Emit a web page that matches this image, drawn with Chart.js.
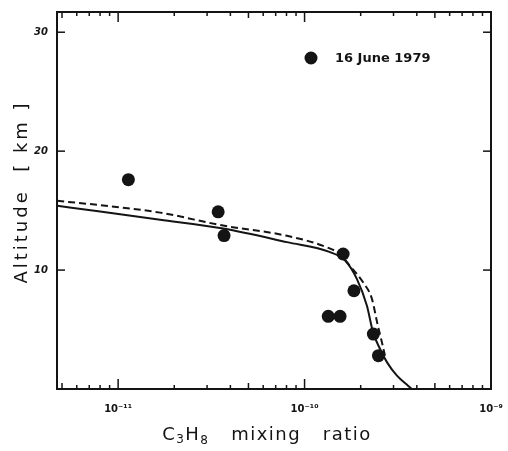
<!DOCTYPE html>
<html>
<head>
<meta charset="utf-8">
<script src="https://cdn.jsdelivr.net/npm/chart.js@4/dist/chart.umd.min.js"></script>
<style>
  html, body { margin: 0; padding: 0; background: #fff; }
  #wrap { width: 508px; height: 451px; }
</style>
</head>
<body>
<div id="wrap"><canvas id="c" width="508" height="451"></canvas></div>
<script>
// Propane (C3H8) vertical profile: balloon samples and two model profiles
const seriesLabel = '16 June 1979';

const obsMixing   = [1.135e-11, 3.44e-11, 3.70e-11, 1.61e-10, 1.84e-10, 1.34e-10, 1.55e-10, 2.34e-10, 2.49e-10];
const obsAltitude = [17.6, 14.9, 12.9, 11.35, 8.26, 6.11, 6.11, 4.62, 2.80];

const solidMixing   = [4.71e-12, 8.01e-12, 1.68e-11, 3.66e-11, 8.05e-11, 1.37e-10, 1.65e-10, 1.91e-10, 2.16e-10, 2.33e-10, 2.54e-10, 2.77e-10, 3.13e-10, 3.59e-10, 3.77e-10];
const solidAltitude = [15.40, 14.92, 14.24, 13.49, 12.35, 11.51, 10.80, 9.24, 7.00, 4.76, 3.36, 2.24, 1.12, 0.28, 0.0];

const dashedMixing   = [4.71e-12, 8.01e-12, 1.68e-11, 3.66e-11, 8.05e-11, 1.32e-10, 1.55e-10, 1.75e-10, 2.06e-10, 2.30e-10, 2.45e-10, 2.60e-10, 2.70e-10];
const dashedAltitude = [15.82, 15.46, 14.83, 13.74, 12.88, 11.91, 11.34, 10.36, 8.97, 7.56, 5.60, 3.92, 2.80];

const altitudeTicks = [10, 20, 30];
const mixingDecades = [1e-12, 1e-11, 1e-10, 1e-9];

const INK = '#141414';
const FONT = '"DejaVu Sans", "Liberation Sans", sans-serif';

const pairs = (xs, ys) => xs.map((v, i) => ({ x: v, y: ys[i] }));

const SUP = { '-': '\u207B', '0': '\u2070', '1': '\u00B9', '2': '\u00B2', '3': '\u00B3',
              '4': '\u2074', '5': '\u2075', '6': '\u2076', '7': '\u2077', '8': '\u2078', '9': '\u2079' };
const powerLabel = e => '10' + String(e).split('').map(ch => SUP[ch]).join('');

// draws a run of [text, size, dy] pieces left to right, centred on cx
function drawRuns(ctx, runs, cx, cy, spacing) {
  ctx.letterSpacing = spacing + 'px';
  const widths = runs.map(([t, s]) => { ctx.font = s + 'px ' + FONT; return ctx.measureText(t).width; });
  let xPos = cx - widths.reduce((p, w) => p + w, 0) / 2;
  ctx.textAlign = 'left';
  runs.forEach(([t, s, dy], i) => {
    ctx.font = s + 'px ' + FONT;
    ctx.fillText(t, xPos, cy + dy);
    xPos += widths[i];
  });
}

// Frame, inward tick marks, axis titles and the key
const decorations = {
  id: 'decorations',
  afterDatasetsDraw(chart) {
    const { ctx, chartArea: a, scales: { x, y } } = chart;
    const seg = (x1, y1, x2, y2) => { ctx.beginPath(); ctx.moveTo(x1, y1); ctx.lineTo(x2, y2); ctx.stroke(); };
    ctx.save();
    ctx.strokeStyle = INK;
    ctx.fillStyle = INK;

    ctx.lineWidth = 2;
    ctx.strokeRect(a.left, a.top, a.right - a.left, a.bottom - a.top);

    // log ticks: tall at decades, short at 2..9
    ctx.lineWidth = 1.5;
    mixingDecades.forEach(d => {
      for (let k = 1; k <= 9; k++) {
        const px = x.getPixelForValue(k * d);
        if (px < a.left + 2 || px > a.right - 2) continue;
        const len = k === 1 ? 10 : (k === 5 ? 6 : 4);
        seg(px, a.bottom, px, a.bottom - len);
        seg(px, a.top, px, a.top + len);
      }
    });
    altitudeTicks.forEach(v => {
      const py = y.getPixelForValue(v);
      seg(a.left, py, a.left + 8, py);
      seg(a.right, py, a.right - 8, py);
    });

    // axis titles
    ctx.textBaseline = 'middle';
    drawRuns(ctx, [['C', 18, 0], ['3', 12, 5], ['H', 18, 0], ['8', 12, 6], ['   mixing   ratio', 18, 0]],
             267, 435, 1.5);

    ctx.save();
    ctx.translate(22, 192);
    ctx.rotate(-Math.PI / 2);
    ctx.textAlign = 'center';
    ctx.font = '18px ' + FONT;
    ctx.letterSpacing = '3px';
    ctx.fillText('Altitude  [ km ]', 0, 0);
    ctx.restore();

    // key
    ctx.letterSpacing = '0px';
    const kx = 311, ky = 58;
    ctx.beginPath();
    ctx.arc(kx, ky, 6.5, 0, Math.PI * 2);
    ctx.fill();
    ctx.textAlign = 'left';
    ctx.font = 'bold 13px ' + FONT;
    ctx.fillText(seriesLabel, kx + 24, ky + 1);
    ctx.restore();
  }
};

new Chart(document.getElementById('c'), {
  type: 'scatter',
  data: {
    datasets: [
      {
        label: 'model (solid)',
        data: pairs(solidMixing, solidAltitude),
        showLine: true,
        borderColor: INK,
        borderWidth: 2,
        pointRadius: 0,
        cubicInterpolationMode: 'monotone',
        fill: false
      },
      {
        label: 'model (dashed)',
        data: pairs(dashedMixing, dashedAltitude),
        showLine: true,
        borderColor: INK,
        borderWidth: 2,
        borderDash: [7, 4],
        pointRadius: 0,
        cubicInterpolationMode: 'monotone',
        fill: false
      },
      {
        label: seriesLabel,
        data: pairs(obsMixing, obsAltitude),
        showLine: false,
        pointRadius: 6.5,
        pointHoverRadius: 6.5,
        backgroundColor: INK,
        borderWidth: 0
      }
    ]
  },
  options: {
    responsive: false,
    animation: false,
    devicePixelRatio: 1,
    layout: { padding: { top: 12, right: 17, left: 0, bottom: 0 } },
    plugins: { legend: { display: false }, tooltip: { enabled: false } },
    scales: {
      x: {
        type: 'logarithmic',
        min: 4.7e-12,
        max: 1e-9,
        afterFit(scale) {
          scale.height = 62;
          scale.paddingLeft = 0;
          scale.paddingRight = 0;
        },
        grid: { display: false, drawTicks: false },
        border: { display: false },
        ticks: {
          autoSkip: false,
          maxRotation: 0,
          padding: 14,
          color: INK,
          font: { family: FONT, size: 10, weight: 'bold' },
          callback(value) {
            const e = Math.log10(value);
            return Math.abs(e - Math.round(e)) < 1e-6 ? powerLabel(Math.round(e)) : '';
          }
        }
      },
      y: {
        type: 'linear',
        min: 0,
        max: 31.7,
        afterFit(scale) {
          scale.width = 57;
          scale.paddingTop = 0;
          scale.paddingBottom = 0;
        },
        grid: { display: false, drawTicks: false },
        border: { display: false },
        ticks: {
          stepSize: 10,
          padding: 9,
          color: INK,
          font: { family: FONT, size: 10, weight: 'bold', style: 'italic' },
          callback(value) { return altitudeTicks.includes(value) ? String(value) : ''; }
        }
      }
    }
  },
  plugins: [decorations]
});
</script>
</body>
</html>
